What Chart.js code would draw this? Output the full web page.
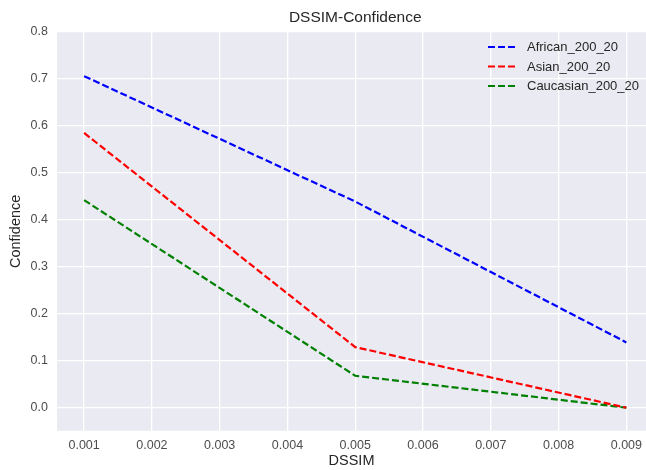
<!DOCTYPE html>
<html>
<head>
<meta charset="utf-8">
<style>
  html, body { margin: 0; padding: 0; background: #ffffff; }
  #wrap { width: 646px; height: 470px; }
</style>
<script src="https://cdn.jsdelivr.net/npm/chart.js@4"></script>
</head>
<body>
<div id="wrap"><canvas id="chart" width="646" height="470"></canvas></div>
<script>
// DSSIM values on the x axis
const dssim = [0.001, 0.005, 0.009];

// Confidence per group
const african = [0.706, 0.439, 0.139];
const asian = [0.585, 0.129, 0.0];
const caucasian = [0.442, 0.068, 0.0];

const seriesNames = ['African_200_20', 'Asian_200_20', 'Caucasian_200_20'];

// Tick positions
const xTicks = [0.001, 0.002, 0.003, 0.004, 0.005, 0.006, 0.007, 0.008, 0.009];
const yTicks = [0.0, 0.1, 0.2, 0.3, 0.4, 0.5, 0.6, 0.7, 0.8];

const chartTitle = 'DSSIM-Confidence';

const FONT = '"Liberation Sans", Arial, sans-serif';
const DASH = [7, 3];

function points(ys) {
  return dssim.map((x, i) => ({ x: x, y: ys[i] }));
}

function makeSet(label, ys, color) {
  return {
    label: label,
    data: points(ys),
    borderColor: color,
    backgroundColor: color,
    borderWidth: 2.2,
    borderDash: DASH,
    pointRadius: 0,
    pointHoverRadius: 0,
    fill: false,
    tension: 0
  };
}

// Grey panel behind the plot
const panelBg = {
  id: 'panelBg',
  beforeDraw(chart) {
    const { ctx, chartArea: a } = chart;
    ctx.save();
    ctx.fillStyle = '#EAEAF2';
    ctx.fillRect(a.left, a.top, a.right - a.left, a.bottom - a.top);
    ctx.restore();
  }
};

// Title centred over the middle of the x range
const centredTitle = {
  id: 'centredTitle',
  afterDraw(chart) {
    const { ctx } = chart;
    const xs = chart.scales.x;
    const cx = xs.getPixelForValue((xs.min + 0.0094) / 2);
    ctx.save();
    ctx.font = '15.5px ' + FONT;
    ctx.fillStyle = '#262626';
    ctx.textAlign = 'center';
    ctx.textBaseline = 'middle';
    ctx.fillText(chartTitle, cx, 17.5);
    ctx.restore();
  }
};

// Legend inside the upper-right corner of the plot, with dashed samples
const innerLegend = {
  id: 'innerLegend',
  afterDatasetsDraw(chart) {
    const { ctx } = chart;
    const x0 = 488, x1 = 515, tx = 527;
    const rows = [47, 66.5, 86];
    ctx.save();
    ctx.font = '13px ' + FONT;
    ctx.textBaseline = 'middle';
    ctx.textAlign = 'left';
    chart.data.datasets.forEach((ds, i) => {
      const y = rows[i];
      ctx.strokeStyle = ds.borderColor;
      ctx.lineWidth = 2.2;
      ctx.setLineDash(DASH);
      ctx.beginPath();
      ctx.moveTo(x0, y);
      ctx.lineTo(x1, y);
      ctx.stroke();
      ctx.setLineDash([]);
      ctx.fillStyle = '#262626';
      ctx.fillText(ds.label, tx, y + 0.5);
    });
    ctx.restore();
  }
};

const chart = new Chart(document.getElementById('chart'), {
  type: 'line',
  data: {
    datasets: [
      makeSet(seriesNames[0], african, '#0000FF'),
      makeSet(seriesNames[1], asian, '#FF0000'),
      makeSet(seriesNames[2], caucasian, '#008000')
    ]
  },
  options: {
    responsive: false,
    animation: false,
    devicePixelRatio: 1,
    layout: { padding: { left: 0, right: 0, top: 32, bottom: 0 } },
    plugins: {
      legend: { display: false },
      tooltip: { enabled: false },
      title: { display: false }
    },
    scales: {
      x: {
        type: 'linear',
        min: 0.0006,
        max: 0.00929,
        afterBuildTicks(scale) {
          scale.ticks = xTicks.map(v => ({ value: v }));
        },
        afterFit(scale) {
          scale.height = 39.3;
          scale.paddingLeft = 0;
          scale.paddingRight = 0;
        },
        border: { display: false },
        grid: { color: '#FFFFFF', lineWidth: 1.3, drawTicks: false },
        ticks: {
          padding: 7.5,
          color: '#4d4d4d',
          font: { family: FONT, size: 12.5 },
          maxRotation: 0,
          autoSkip: false,
          callback: v => Number(v).toFixed(3)
        },
        title: {
          display: true,
          text: 'DSSIM',
          color: '#262626',
          font: { family: FONT, size: 14.5 },
          padding: { top: 0, bottom: 0 }
        }
      },
      y: {
        type: 'linear',
        min: -0.049,
        max: 0.8,
        afterBuildTicks(scale) {
          scale.ticks = yTicks.map(v => ({ value: v }));
        },
        afterFit(scale) {
          scale.width = 57;
          scale.paddingTop = 0;
          scale.paddingBottom = 0;
        },
        border: { display: false },
        grid: { color: '#FFFFFF', lineWidth: 1.3, drawTicks: false },
        ticks: {
          padding: 9,
          color: '#4d4d4d',
          font: { family: FONT, size: 12.5 },
          autoSkip: false,
          callback: v => Number(v).toFixed(1)
        },
        title: {
          display: true,
          text: 'Confidence',
          color: '#262626',
          font: { family: FONT, size: 14.5 },
          padding: { top: 7.3, bottom: 0 }
        }
      }
    }
  },
  plugins: [panelBg, innerLegend, centredTitle]
});
</script>
</body>
</html>
